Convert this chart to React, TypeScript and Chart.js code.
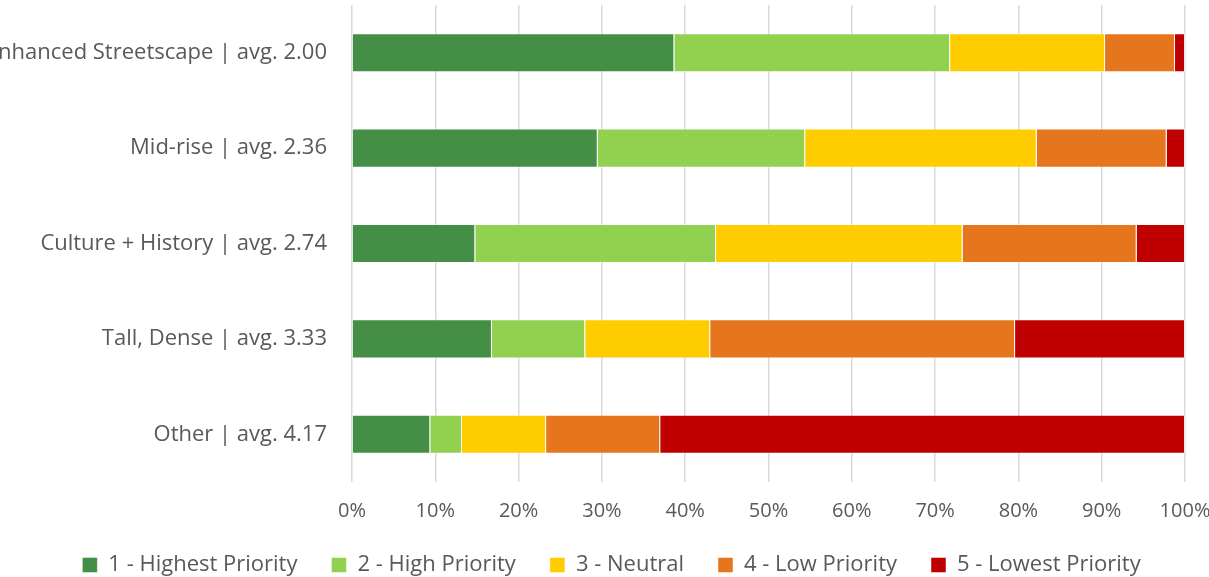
import React, { useEffect, useRef } from "react";
import { Chart, registerables } from "chart.js";

Chart.register(...registerables);

const categories = [
  "Enhanced Streetscape | avg. 2.00",
  "Mid-rise | avg. 2.36",
  "Culture + History | avg. 2.74",
  "Tall, Dense | avg. 3.33",
  "Other | avg. 4.17",
];

const seriesNames = [
  "1 - Highest Priority",
  "2 - High Priority",
  "3 - Neutral",
  "4 - Low Priority",
  "5 - Lowest Priority",
];

const highest = [38.7, 29.5, 14.8, 16.8, 9.4];
const high = [33.1, 24.9, 28.9, 11.2, 3.8];
const neutral = [18.6, 27.8, 29.6, 15.0, 10.1];
const low = [8.4, 15.6, 20.9, 36.6, 13.7];
const lowest = [1.2, 2.2, 5.8, 20.4, 63.0];

const colors = ["#448F45", "#92D050", "#FFCC00", "#E6761D", "#C00000"];

const legendHeightPlugin = {
  id: "legendHeight",
  beforeUpdate(chart: any) {
    const lg = chart.legend;
    if (lg && !lg._patchedHeight) {
      const orig = lg.fit;
      lg.fit = function () {
        orig.call(this);
        this.height = 57;
      };
      lg._patchedHeight = true;
    }
  },
  afterLayout(chart: any) {
    const lg = chart.legend;
    if (lg) {
      lg.left += 38;
    }
  },
};

export default function App() {
  const ref = useRef<HTMLCanvasElement | null>(null);

  useEffect(() => {
    document.body.style.margin = "0";
    const canvas = ref.current;
    if (!canvas) return;
    const values = [highest, high, neutral, low, lowest];
    const font = "'Open Sans', sans-serif";
    const chart = new Chart(canvas, {
      type: "bar",
      data: {
        labels: categories,
        datasets: seriesNames.map((name, i) => ({
          label: name,
          data: values[i],
          backgroundColor: colors[i],
          borderColor: "rgba(255,255,255,0.45)",
          borderWidth: 1,
          barPercentage: 0.41,
          categoryPercentage: 1,
        })),
      },
      options: {
        indexAxis: "y",
        responsive: false,
        animation: false,
        layout: { padding: { top: 5, right: 24, left: 0, bottom: 0 } },
        plugins: {
          tooltip: { enabled: false },
          legend: {
            position: "bottom",
            labels: {
              boxWidth: 15,
              boxHeight: 15,
              padding: 34,
              color: "#595959",
              font: { family: font, size: 22 },
            },
          },
        },
        scales: {
          x: {
            stacked: true,
            min: 0,
            max: 100,
            ticks: {
              stepSize: 10,
              callback: (v: any) => v + "%",
              color: "#595959",
              font: { family: font, size: 20 },
              padding: 17,
              maxRotation: 0,
            },
            grid: { color: "#D9D9D9", lineWidth: 1.5, drawTicks: false },
            border: { display: false },
            afterFit: (scale: any) => {
              scale.height = 38;
              scale.paddingLeft = 0;
              scale.paddingRight = 0;
            },
          },
          y: {
            stacked: true,
            ticks: {
              color: "#595959",
              font: { family: font, size: 22 },
              padding: 25,
            },
            grid: { display: false, drawTicks: false },
            border: { display: false },
            afterFit: (scale: any) => {
              scale.width = 352;
              scale.paddingTop = 0;
              scale.paddingBottom = 0;
            },
          },
        },
      },
      plugins: [legendHeightPlugin],
    });
    return () => chart.destroy();
  }, []);

  return <canvas ref={ref} width={1209} height={577} style={{ display: "block" }} />;
}
